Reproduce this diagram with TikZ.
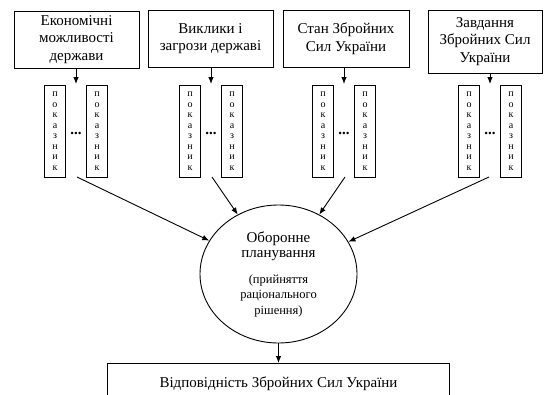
\documentclass[tikz,border=0pt]{standalone}
\usepackage{fontspec}
\setmainfont{Liberation Serif}
\usetikzlibrary{arrows.meta,shapes.geometric}
\tikzstyle{factor}=[draw,rectangle,minimum width=125pt,minimum height=57pt,inner sep=2pt,align=center,font=\fontsize{15}{17.5}\selectfont]
\tikzstyle{indicator}=[draw,rectangle,minimum width=21pt,minimum height=92pt,inner sep=0pt,align=center,font=\fontsize{10}{10.5}\selectfont]
\tikzstyle{planning}=[draw,ellipse,minimum width=157pt,minimum height=138pt,inner sep=0pt,align=center,font=\fontsize{15}{15.5}\selectfont]
\tikzstyle{result}=[draw,rectangle,minimum width=342pt,minimum height=40pt,inner sep=2pt,font=\fontsize{15}{17.5}\selectfont]
\newcommand{\pokaznyk}{п\\о\\к\\а\\з\\н\\и\\к}

\begin{document}
\begin{tikzpicture}[->,>={Latex[length=7pt,width=5.5pt]},line width=0.9pt,x=1pt,y=-1pt]
\clip (0,0) rectangle (552,394);
% chynnyky
\node [factor] (f1) at (76.5,39.5) {Економічні\\можливості\\держави};
\node [factor] (f2) at (210.5,38.5) {Виклики і\\загрози державі};
\node [factor, minimum width=126pt] (f3) at (346,38.5) {Стан Збройних\\Сил України};
\node [factor, minimum width=114pt, minimum height=63pt] (f4) at (485,41.5) {Завдання\\Збройних Сил\\України};
% pokaznyky
\foreach \x/\n/\d in {76/1/1, 211/2/1, 344/3/1, 490/4/-1} {
  \node [indicator] (l\n) at ({\x-21},131) {\pokaznyk};
  \node [indicator] (r\n) at ({\x+21},131) {\pokaznyk};
  \node [font=\fontsize{15}{15}\selectfont, inner sep=0pt] (dots\n) at (\x,133) {\textbf{...}};
  \coordinate (t\n) at (\x,84);
  \coordinate (b\n) at ({\x+\d},177);
  \draw (f\n.south -| t\n) -- (t\n);
}
% planuvannia
\node [planning] (plan) at (278.5,274) {Оборонне\\планування\\[10pt]{\fontsize{12.5}{13.5}\selectfont(прийняття}\\{\fontsize{12.5}{13.5}\selectfont раціонального}\\{\fontsize{12.5}{13.5}\selectfont рішення)}};
\foreach \n in {1,...,4}
  \draw (b\n) -- (plan);
\node [result, anchor=north] (res) at (278.5,363) {Відповідність Збройних Сил України};
\draw (plan.south) -- (res.north);
\end{tikzpicture}
\end{document}
